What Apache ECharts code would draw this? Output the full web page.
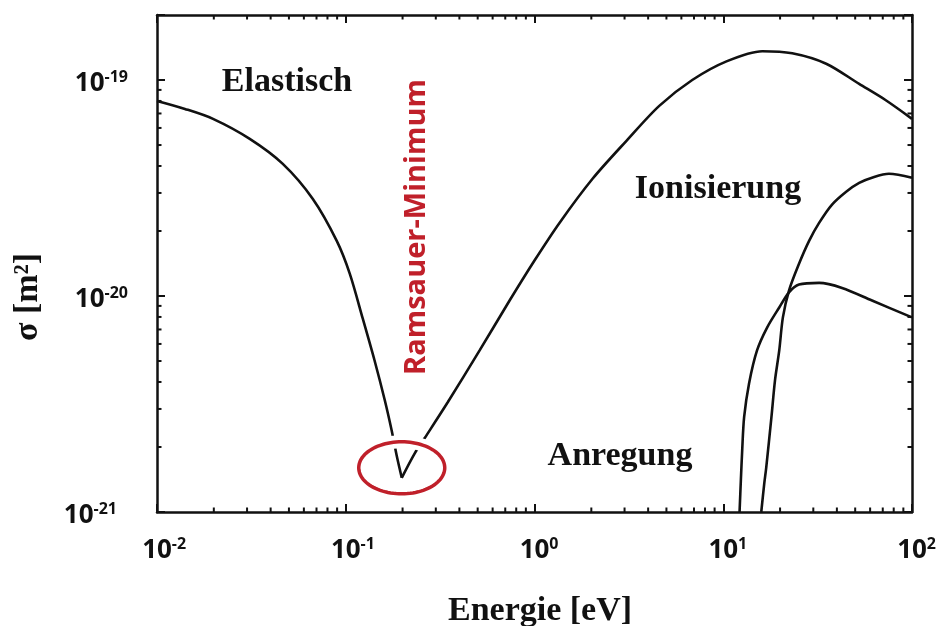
<!DOCTYPE html>
<html>
<head>
<meta charset="utf-8">
<script src="https://cdn.jsdelivr.net/npm/echarts@6/dist/echarts.min.js"></script>
<style>
  html, body { margin: 0; padding: 0; background: #fff; }
  #chart { width: 938px; height: 626px; }
</style>
</head>
<body>
<div id="chart"></div>
<script>
// Electron collision cross sections in argon, sigma [m^2] vs. energy [eV]

// Elastic scattering, left branch down to the Ramsauer minimum
const elasticLeftEnergy = [0.01, 0.01406, 0.0198, 0.031, 0.0464, 0.0668, 0.0896, 0.105, 0.123, 0.142, 0.161, 0.175, 0.186, 0.198];
const elasticLeftSigma  = [8.0e-20, 7.35e-20, 6.61e-20, 5.34e-20, 4.09e-20, 2.82e-20, 1.80e-20, 1.27e-20, 7.87e-21, 5.04e-21, 3.29e-21, 2.39e-21, 1.83e-21, 1.44e-21];

// Elastic scattering, right branch from the minimum upwards
const elasticRightEnergy = [0.198, 0.232, 0.262, 0.347, 0.512, 0.738, 1.0, 1.356, 2.03, 3.07, 4.58, 6.85, 10.4, 16.1, 23.2, 35.1, 52.5, 72.0, 100];
const elasticRightSigma  = [1.44e-21, 1.87e-21, 2.20e-21, 3.22e-21, 5.6e-21, 9.53e-21, 1.46e-20, 2.18e-20, 3.49e-20, 5.23e-20, 7.59e-20, 1.0e-19, 1.22e-19, 1.36e-19, 1.33e-19, 1.19e-19, 9.59e-20, 8.1e-20, 6.61e-20];

// Excitation
const excitationEnergy = [12.2, 12.4, 12.6, 12.9, 13.7, 15.1, 17.1, 19.8, 22.3, 25.2, 32.2, 42.6, 61.4, 100];
const excitationSigma  = [1.0e-21, 1.41e-21, 1.93e-21, 2.75e-21, 3.94e-21, 5.6e-21, 7.16e-21, 8.85e-21, 1.04e-20, 1.13e-20, 1.15e-20, 1.09e-20, 9.53e-21, 7.96e-21];

// Ionisation
const ionisationEnergy = [15.9, 16.5, 16.9, 18.0, 18.8, 19.8, 20.7, 22.3, 25.2, 28.5, 32.2, 37.7, 44.8, 52.5, 63.0, 75.5, 100];
const ionisationSigma  = [1.0e-21, 1.36e-21, 1.61e-21, 2.75e-21, 4.07e-21, 5.6e-21, 7.96e-21, 1.06e-20, 1.41e-20, 1.80e-20, 2.18e-20, 2.65e-20, 3.04e-20, 3.34e-20, 3.56e-20, 3.68e-20, 3.53e-20];

// Ramsauer minimum (marked with an ellipse)
const ramsauerEnergy = 0.198;
const ramsauerSigma = 1.44e-21;

// Axis ranges and decades
const X_MIN = 0.01, X_MAX = 100;
const SIGMA_MIN = 1e-21, SIGMA_MAX = 2e-19;
const xDecades = [-2, -1, 0, 1];
const yDecades = [-21, -20, -19];
const minorMultipliers = [2, 3, 4, 5, 6, 7, 8, 9];

// The y axis works in units of 1e-21 m^2 (keeps the log scale well conditioned);
// tick labels are written back as powers of ten in m^2.
const UNIT_EXP = -21;
const UNIT = Math.pow(10, UNIT_EXP);
const toUnit = s => s / UNIT;
const Y_MIN = toUnit(SIGMA_MIN), Y_MAX = toUnit(SIGMA_MAX);

const pairs = (xs, ys) => xs.map((x, i) => [x, toUnit(ys[i])]);

// Minor tick positions on the logarithmic axes
const minorTicks = [];
xDecades.forEach(d => minorMultipliers.forEach(m => {
  const v = m * Math.pow(10, d);
  if (v < X_MAX) minorTicks.push([v, Y_MIN, 0]);
}));
yDecades.forEach(d => minorMultipliers.forEach(m => {
  const v = toUnit(m * Math.pow(10, d));
  if (v <= Y_MAX * 1.0001) minorTicks.push([X_MIN, v, 1]);
}));

const INK = '#111';
const RED = '#C0202A';
const SERIF = '"Liberation Serif", "Times New Roman", serif';
const SANS = '"Open Sans", "Noto Sans", sans-serif';

const decadeOf = v => {
  const e = Math.log10(v);
  return Math.abs(e - Math.round(e)) < 1e-6 ? Math.round(e) : null;
};

const tickRich = {
  b: { fontFamily: SANS, fontWeight: 'bold', fontSize: 26, color: INK, lineHeight: 32 },
  s: { fontFamily: SANS, fontWeight: 'bold', fontSize: 16, color: INK, lineHeight: 32, padding: [0, 0, 14, 0] },
  h: { fontFamily: SANS, fontWeight: 'bold', fontSize: 16, color: 'rgba(0,0,0,0)', lineHeight: 32, padding: [0, 0, 14, 0] },
  sr: { fontFamily: SANS, fontWeight: 'bold', fontSize: 16, color: INK, lineHeight: 32, padding: [0, 11, 14, 0] }
};

const lineSeries = (data) => ({
  type: 'line',
  xAxisIndex: 0,
  yAxisIndex: 0,
  data: data,
  showSymbol: false,
  smooth: 0.3,
  lineStyle: { color: INK, width: 2.6 },
  z: 3,
  silent: true
});

// closed outline of an ellipse as polygon points
const ellipsePoints = (cx, cy, rx, ry) => {
  const pts = [];
  for (let i = 0; i < 96; i++) {
    const t = (i / 96) * Math.PI * 2;
    pts.push([cx + rx * Math.cos(t), cy + ry * Math.sin(t)]);
  }
  return pts;
};

const frameAxis = {
  axisLine: { show: true, lineStyle: { color: INK, width: 2.5 } },
  axisTick: { show: true, inside: true, length: 8, lineStyle: { color: INK, width: 2 } },
  splitLine: { show: false },
  minorTick: { show: false }
};

const chart = echarts.init(document.getElementById('chart'), null, { renderer: 'canvas' });

chart.setOption({
  animation: false,
  backgroundColor: '#fff',
  grid: { left: 157, right: 26, top: 15, bottom: 114, containLabel: false, outerBoundsMode: 'none' },
  xAxis: [
    Object.assign({}, frameAxis, {
      type: 'log', logBase: 10, min: X_MIN, max: X_MAX,
      position: 'bottom',
      axisLabel: {
        margin: 23,
        formatter: v => {
          const e = decadeOf(v);
          return e === null ? '' : '{h|' + e + '}{b|10}{s|' + e + '}';
        },
        rich: tickRich
      }
    }),
    Object.assign({}, frameAxis, {
      type: 'log', logBase: 10, min: X_MIN, max: X_MAX,
      position: 'top',
      axisLabel: { show: false }
    })
  ],
  yAxis: [
    Object.assign({}, frameAxis, {
      type: 'log', logBase: 10, min: Y_MIN, max: Y_MAX,
      position: 'left',
      axisLabel: {
        margin: 29,
        padding: [8, 0, 0, 0],
        formatter: v => {
          const d = decadeOf(v);
          if (d === null) return '';
          const e = d + UNIT_EXP;
          return '{b|10}{' + (e === yDecades[0] ? 'sr' : 's') + '|' + e + '}';
        },
        rich: tickRich
      }
    }),
    Object.assign({}, frameAxis, {
      type: 'log', logBase: 10, min: Y_MIN, max: Y_MAX,
      position: 'right',
      axisLabel: { show: false }
    })
  ],
  series: [
    lineSeries(pairs(elasticLeftEnergy, elasticLeftSigma)),
    lineSeries(pairs(elasticRightEnergy, elasticRightSigma)),
    lineSeries(pairs(excitationEnergy, excitationSigma)),
    lineSeries(pairs(ionisationEnergy, ionisationSigma)),
    {
      // minor ticks on all four sides of the frame
      type: 'custom',
      xAxisIndex: 0,
      yAxisIndex: 0,
      data: minorTicks,
      encode: { x: 0, y: 1 },
      silent: true,
      z: 4,
      clip: false,
      renderItem: (params, api) => {
        const v0 = api.value(0), v1 = api.value(1), kind = api.value(2);
        const st = { stroke: INK, lineWidth: 2 };
        if (kind === 0) {
          const b = api.coord([v0, Y_MIN]);
          const t = api.coord([v0, Y_MAX]);
          return { type: 'group', children: [
            { type: 'line', shape: { x1: b[0], y1: b[1], x2: b[0], y2: b[1] - 4.5 }, style: st },
            { type: 'line', shape: { x1: t[0], y1: t[1], x2: t[0], y2: t[1] + 4.5 }, style: st }
          ] };
        }
        const l = api.coord([X_MIN, v1]);
        const r = api.coord([X_MAX, v1]);
        return { type: 'group', children: [
          { type: 'line', shape: { x1: l[0], y1: l[1], x2: l[0] + 4.5, y2: l[1] }, style: st },
          { type: 'line', shape: { x1: r[0], y1: r[1], x2: r[0] - 4.5, y2: r[1] }, style: st }
        ] };
      }
    },
    {
      // ellipse around the Ramsauer minimum
      type: 'custom',
      xAxisIndex: 0,
      yAxisIndex: 0,
      data: [[ramsauerEnergy, toUnit(ramsauerSigma)]],
      encode: { x: 0, y: 1 },
      silent: true,
      z: 6,
      clip: false,
      renderItem: (params, api) => {
        const c = api.coord([api.value(0), api.value(1)]);
        const pts = ellipsePoints(c[0], c[1] - 10, 43, 26);
        return { type: 'group', children: [
          { type: 'polygon', shape: { points: pts }, style: { fill: 'none', stroke: '#fff', lineWidth: 13 } },
          { type: 'polygon', shape: { points: pts }, style: { fill: 'none', stroke: RED, lineWidth: 3.5 } }
        ] };
      }
    }
  ],
  graphic: [
    { type: 'text', x: 28, y: 297, z: 10, rotation: Math.PI / 2,
      style: { text: 'σ [m²]', font: 'bold 34px ' + SERIF, fill: INK, align: 'center', verticalAlign: 'middle' } },
    { type: 'text', x: 540, y: 594, z: 10,
      style: { text: 'Energie [eV]', font: 'bold 34px ' + SERIF, fill: INK, align: 'center', verticalAlign: 'top' } },
    { type: 'text', x: 287, y: 82, z: 10,
      style: { text: 'Elastisch', font: 'bold 34px ' + SERIF, fill: INK, align: 'center', verticalAlign: 'middle' } },
    { type: 'text', x: 718, y: 189, z: 10,
      style: { text: 'Ionisierung', font: 'bold 34px ' + SERIF, fill: INK, align: 'center', verticalAlign: 'middle' } },
    { type: 'text', x: 620, y: 456, z: 10,
      style: { text: 'Anregung', font: 'bold 34px ' + SERIF, fill: INK, align: 'center', verticalAlign: 'middle' } },
    { type: 'text', x: 417, y: 227, z: 10, rotation: Math.PI / 2,
      style: { text: 'Ramsauer-Minimum', font: 'bold 29px ' + SANS, fill: RED, align: 'center', verticalAlign: 'middle' } }
  ]
});
</script>
</body>
</html>
